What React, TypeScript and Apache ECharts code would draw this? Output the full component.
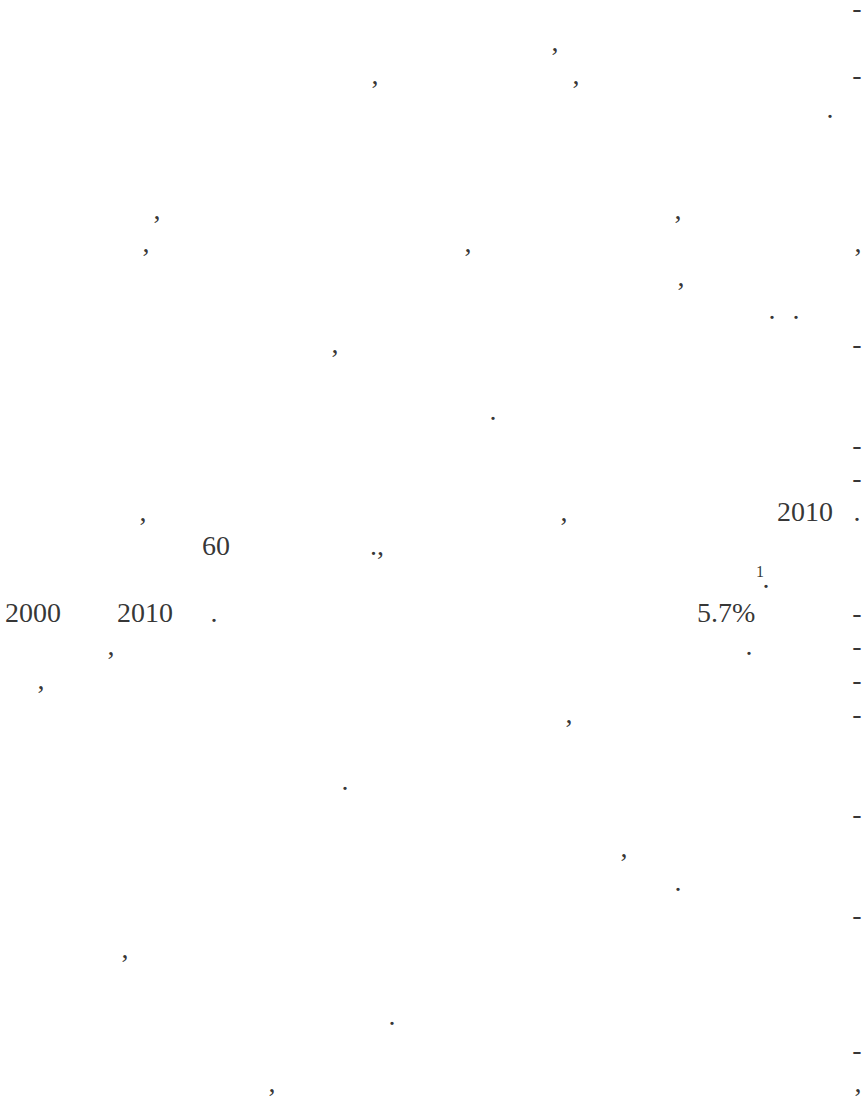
import React, { useEffect, useRef } from "react";
import * as echarts from "echarts";

// Page text layout: each mark = [x, line index]
const LINE_BASE0 = 17;
const LINE_STEP = 33.6;

const commas: number[][] = [
  [555, 1], [375, 2], [576, 2], [157, 6], [678, 6], [146, 7], [468, 7], [858, 7],
  [681, 8], [335, 10], [143, 15], [564, 15], [111, 19], [41, 20], [569, 21],
  [624, 25], [125, 28], [272, 32], [858, 32],
];
const periods: number[][] = [
  [830, 3], [772, 9], [796, 9], [493, 12], [857, 15], [766, 17], [214, 18],
  [749, 19], [345, 23], [678, 26], [392, 30],
];
const hyphens: number[][] = [
  [857, 0], [857, 2], [857, 10], [857, 13], [857, 14], [857, 18], [857, 19],
  [857, 20], [857, 21], [857, 24], [857, 27], [857, 31],
];
const words: [string, number, number][] = [
  ["2010", 777, 15], ["60", 202, 16], [".,", 370, 16], ["2000", 5, 18],
  ["2010", 117, 18], ["5.7%", 697, 18],
];
const superscripts: [string, number, number][] = [["1", 760, 17]];

const FONT = "'Liberation Serif', 'Times New Roman', serif";

function baseline(line: number) {
  return LINE_BASE0 + line * LINE_STEP;
}

export default function App() {
  const ref = useRef<HTMLDivElement>(null);
  useEffect(() => {
    if (!ref.current) return;
    const chart = echarts.init(ref.current, undefined, { renderer: "svg" });
    const mid = 9.5;
    const punct = (arr: number[][], ch: string) =>
      arr.map(([x, l]) => ({ value: [x, baseline(l) - mid, ch] }));
    const baseScatter = {
      type: "scatter",
      symbolSize: 1,
      itemStyle: { color: "rgba(0,0,0,0)" },
      silent: true,
      emphasis: { disabled: true },
    };
    const option = {
      animation: false,
      backgroundColor: "#ffffff",
      grid: { left: 0, right: 0, top: 0, bottom: 0 },
      xAxis: { type: "value", min: 0, max: 867, show: false },
      yAxis: { type: "value", min: 0, max: 1102, inverse: true, show: false },
      series: [
        {
          ...baseScatter,
          data: [...punct(commas, ","), ...punct(periods, "."), ...punct(hyphens, "-")],
          label: {
            show: true,
            position: "inside",
            formatter: (p: any) => p.value[2],
            fontFamily: FONT,
            fontSize: 28,
            lineHeight: 12,
            color: "#000",
            align: "center",
            verticalAlign: "middle",
          },
        },
        {
          ...baseScatter,
          data: words.map(([t, x, l]) => ({ value: [x, baseline(l) - mid, t] })),
          label: {
            show: true,
            position: "inside",
            formatter: (p: any) => p.value[2],
            fontFamily: FONT,
            fontSize: 28,
            lineHeight: 22,
            color: "#000",
            align: "left",
            verticalAlign: "middle",
          },
        },
        {
          ...baseScatter,
          data: superscripts.map(([t, x, l]) => ({ value: [x, baseline(l) - 17, t] })),
          label: {
            show: true,
            position: "inside",
            formatter: (p: any) => p.value[2],
            fontFamily: FONT,
            fontSize: 16,
            lineHeight: 14,
            color: "#000",
            align: "center",
            verticalAlign: "middle",
          },
        },
      ],
    };
    chart.setOption(option as any);
    return () => chart.dispose();
  }, []);
  return (
    <div
      ref={ref}
      style={{ position: "absolute", left: 0, top: 0, width: 867, height: 1102, background: "#fff" }}
    />
  );
}
